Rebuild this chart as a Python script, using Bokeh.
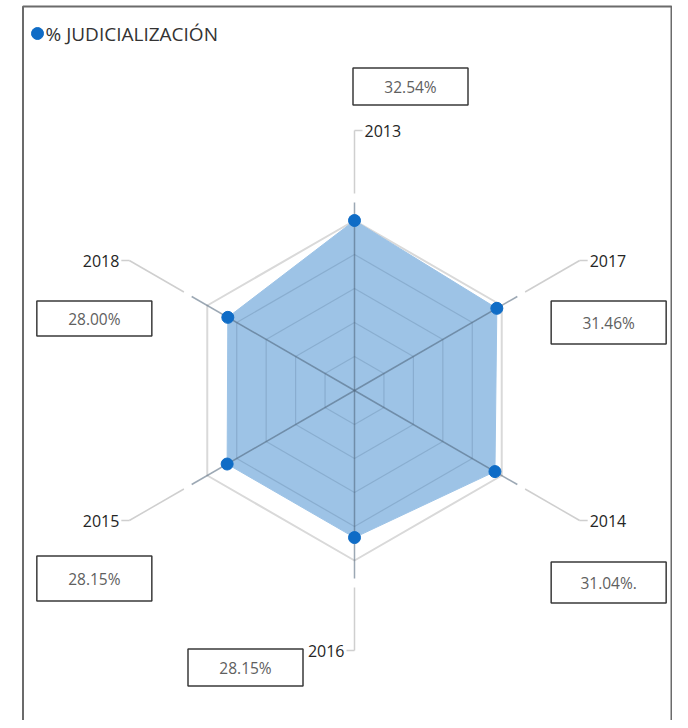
import numpy as np
from bokeh.plotting import figure
from bokeh.models import Range1d, ColumnDataSource
from bokeh.core.properties import value
from bokeh.embed import file_html
from bokeh.resources import INLINE

# ---------------- data ----------------
CATEGORIES = ["2013", "2017", "2014", "2016", "2015", "2018"]
VALUES = [32.54, 31.46, 31.04, 28.15, 28.15, 28.00]
VALUE_LABELS = ["32.54%", "31.46%", "31.04%.", "28.15%", "28.15%", "28.00%"]
SERIES_NAME = "% JUDICIALIZACIÓN"
N_RINGS = 5
AXIS_MAX = max(VALUES)

# ---------------- layout / style ----------------
FONT = value("Open Sans")
R_OUTER = 170.0          # screen px for AXIS_MAX
R_SPOKE = 188.0
R_LEAD0 = 197.0
R_LEAD1 = 260.0
TICK = 8.0
BOX_W = 115
BOX_H = [37, 43, 41, 37, 45, 35]
FILL = "#9DC3E6"
POINT = "#0F6CC6"

W, H = 672, 720
p = figure(width=W, height=H, output_backend="svg", toolbar_location=None,
           x_range=Range1d(-354, 318), y_range=Range1d(-330, 390),
           min_border=0)
p.axis.visible = False
p.xgrid.visible = False
p.ygrid.visible = False
p.outline_line_color = None
p.background_fill_color = "white"
p.border_fill_color = "white"

n = len(CATEGORIES)
ang = np.deg2rad(90 - 360.0 / n * np.arange(n))
cs, sn = np.cos(ang), np.sin(ang)
scale = R_OUTER / AXIS_MAX

# outer ring (under fill)
xo = list(R_OUTER * cs) + [R_OUTER * cs[0]]
yo = list(R_OUTER * sn) + [R_OUTER * sn[0]]
p.line(xo, yo, line_color="#d9d9d9", line_width=2)

# light leader segments
lx = [[R_LEAD0 * c, R_LEAD1 * c] for c in cs]
ly = [[R_LEAD0 * s, R_LEAD1 * s] for s in sn]
side = np.where(cs > 0.1, 1, np.where(cs < -0.1, -1, np.where(sn > 0, 1, -1)))
tx = [[R_LEAD1 * c, R_LEAD1 * c + TICK * d] for c, d in zip(cs, side)]
ty = [[R_LEAD1 * s, R_LEAD1 * s] for s in sn]
p.multi_line(lx + tx, ly + ty, line_color="#cfcfcf", line_width=1.5)

# data polygon
r = np.array(VALUES) * scale
px, py = r * cs, r * sn
p.patch(list(px), list(py), fill_color=FILL, line_color=FILL, line_width=1)

# inner rings on top of fill
rx, ry = [], []
for k in range(1, N_RINGS):
    rr = R_OUTER * k / N_RINGS
    rx.append(list(rr * cs) + [rr * cs[0]])
    ry.append(list(rr * sn) + [rr * sn[0]])
p.multi_line(rx, ry, line_color="#3d5a78", line_alpha=0.2, line_width=1.2)

# spokes
sx = [[0, R_SPOKE * c] for c in cs]
sy = [[0, R_SPOKE * s] for s in sn]
p.multi_line(sx, sy, line_color="#4a6076", line_alpha=0.55, line_width=1.5)

# points
p.scatter(list(px), list(py), size=12, fill_color=POINT, line_color=POINT)

# category labels
lab_x = R_LEAD1 * cs + (TICK + 2) * side
lab_y = R_LEAD1 * sn
for sgn, align in ((1, "left"), (-1, "right")):
    idx = [i for i in range(n) if side[i] == sgn]
    src = ColumnDataSource(dict(x=[lab_x[i] for i in idx], y=[lab_y[i] for i in idx],
                                t=[CATEGORIES[i] for i in idx]))
    p.text(x="x", y="y", text="t", source=src, text_font=FONT, text_font_size="16px",
           text_color="#252525", text_align=align, text_baseline="middle")

# value boxes
def box_offset(i):
    if cs[i] > 0.1:
        return 29, -62
    if cs[i] < -0.1:
        return -35, -58
    return (56, 44) if sn[i] > 0 else (-109, -17)

bx, by = [], []
for i in range(n):
    ox, oy = box_offset(i)
    bx.append(R_LEAD1 * cs[i] + ox)
    by.append(R_LEAD1 * sn[i] + oy)
bsrc = ColumnDataSource(dict(x=bx, y=by, h=BOX_H, t=VALUE_LABELS))
p.rect(x="x", y="y", width=BOX_W, height="h", width_units="screen", height_units="screen",
       source=bsrc, fill_color="white", line_color="#3a3a3a", line_width=1.5)
p.text(x="x", y="y", text="t", source=bsrc, text_font=FONT, text_font_size="15.5px",
       text_color="#606060", text_align="center", text_baseline="middle")

# legend
p.scatter([-317], [357], size=12, fill_color=POINT, line_color=POINT)
p.text([-309], [357], text=[SERIES_NAME], text_font=FONT, text_font_size="19px",
       text_color="#333333", text_align="left", text_baseline="middle")

# frame (open at bottom)
p.line([-331.5, -331.5, 317, 317], [-330, 384, 384, -330], line_color="#6b6b6b", line_width=2)

open("out.html", "w").write(file_html(p, INLINE))
